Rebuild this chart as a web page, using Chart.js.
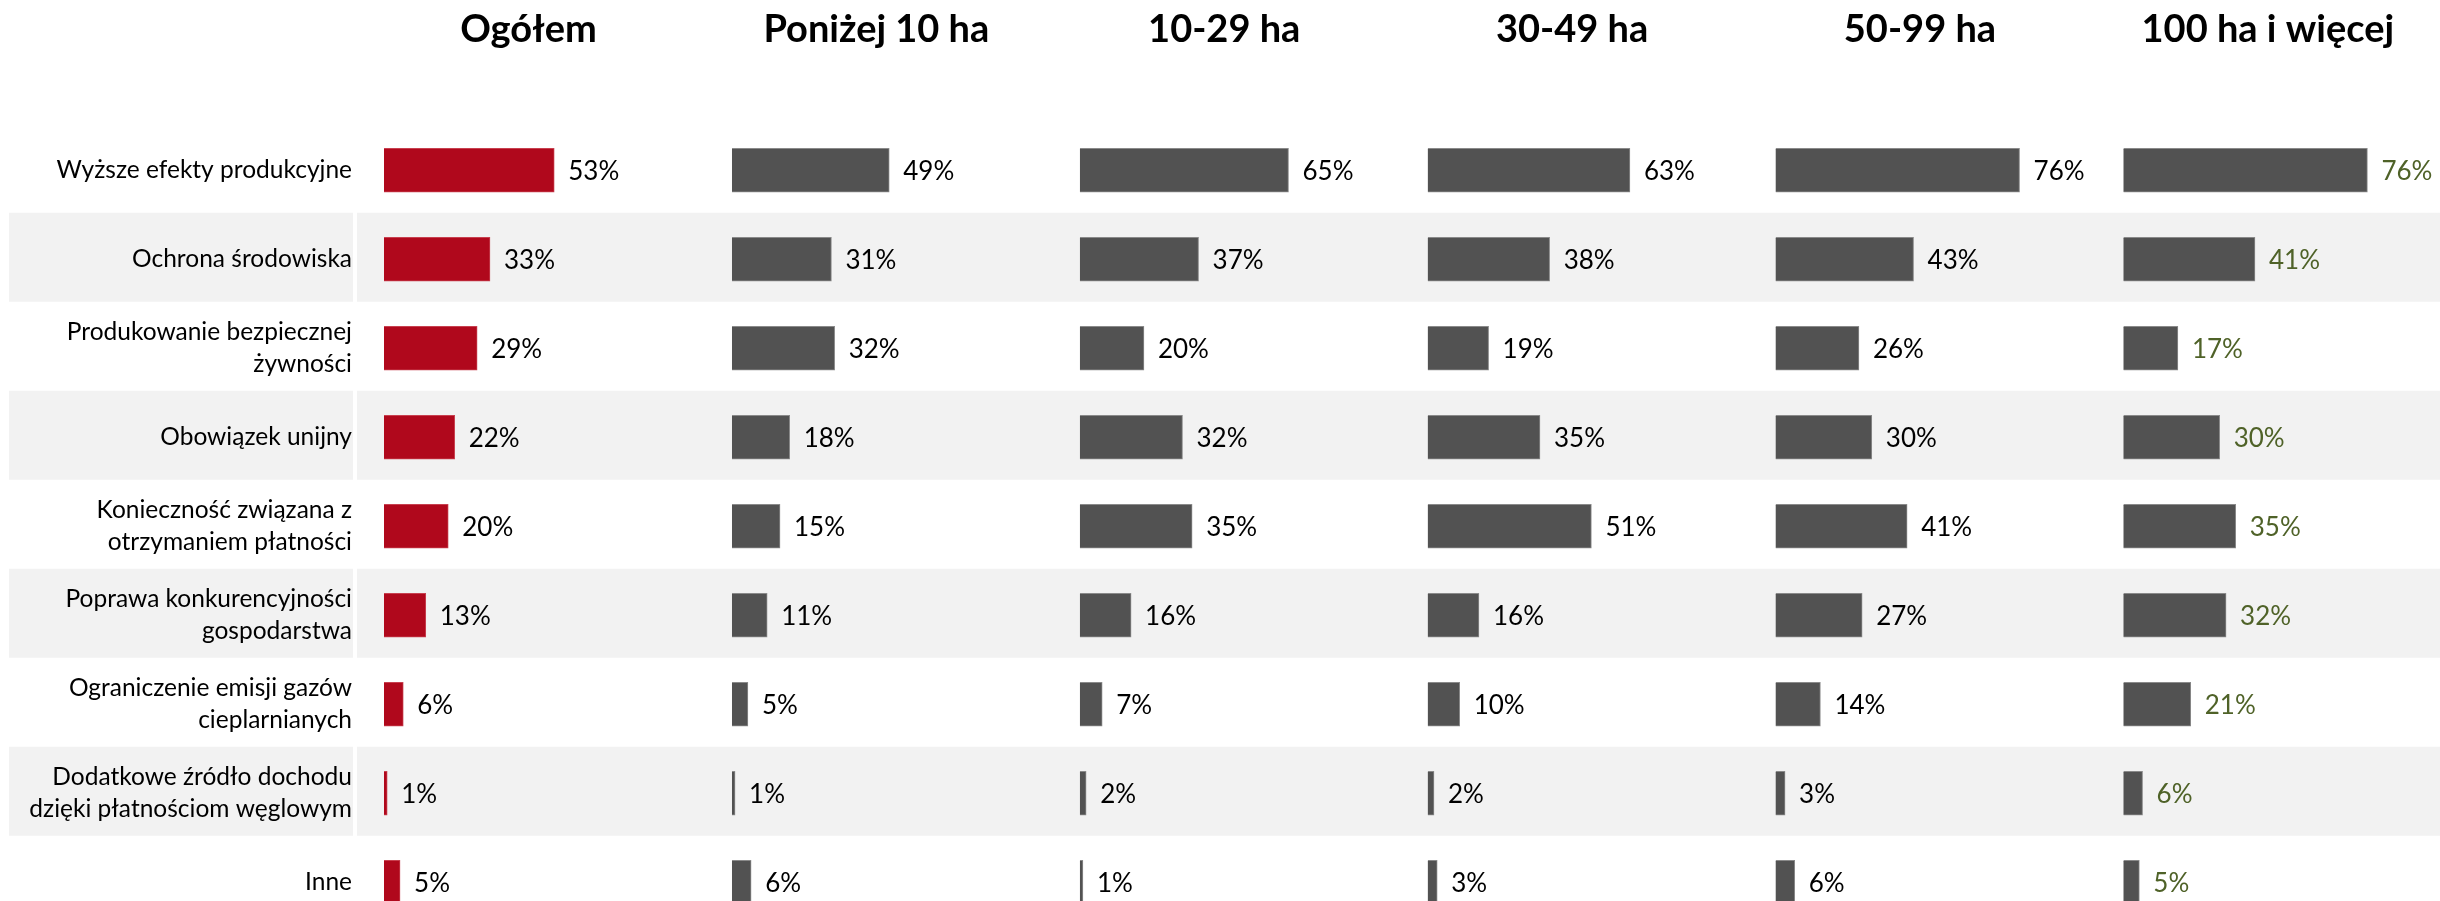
<!DOCTYPE html>
<html>
<head>
<meta charset="utf-8">
<script src="https://cdn.jsdelivr.net/npm/chart.js@4.4.1/dist/chart.umd.min.js"></script>
<style>
	html, body { margin: 0; padding: 0; background: #fff; overflow: hidden; }
	#wrap { width: 2440px; height: 901px; overflow: hidden; }
	#box { width: 2440px; height: 1000px; position: relative; }
</style>
</head>
<body>
<div id="wrap"><div id="box"><canvas id="myChart"></canvas></div></div>
<script>
/*
 * DATA
 */
	var categories = [
		'Wyższe efekty produkcyjne',
		'Ochrona środowiska',
		['Produkowanie bezpiecznej', 'żywności'],
		'Obowiązek unijny',
		['Konieczność związana z', 'otrzymaniem płatności'],
		['Poprawa konkurencyjności', 'gospodarstwa'],
		['Ograniczenie emisji gazów', 'cieplarnianych'],
		['Dodatkowe źródło dochodu', 'dzięki płatnościom węglowym'],
		'Inne'
	];
	var groups = ['Ogółem', 'Poniżej 10 ha', '10-29 ha', '30-49 ha', '50-99 ha', '100 ha i więcej'];

	var ogolem    = [53, 33, 29, 22, 20, 13, 6, 1, 5];
	var ponizej10 = [49, 31, 32, 18, 15, 11, 5, 1, 6];
	var ha10_29   = [65, 37, 20, 32, 35, 16, 7, 2, 1];
	var ha30_49   = [63, 38, 19, 35, 51, 16, 10, 2, 3];
	var ha50_99   = [76, 43, 26, 30, 41, 27, 14, 3, 6];
	var ha100     = [76, 41, 17, 30, 35, 32, 21, 6, 5];

/*
 * STYLE
 */
	var FONT = "Lato, 'Noto Sans', sans-serif";
	var RED = '#b0081c';
	var GREY = '#525252';
	var series = [ogolem, ponizej10, ha10_29, ha30_49, ha50_99, ha100];
	var axisMax = [108.3, 108.3, 108.3, 108.3, 108.3, 98.6];   // each column's % range (sets its width)
	var labelColors = ['#000', '#000', '#000', '#000', '#000', '#4f6228'];
	var TITLE_AT = 45;   // title is centred over this % value of its column

	/* PLUGIN - alternating grey row bands */
	var rowBands = {
		id: 'rowBands',
		beforeDraw: function(chart) {
			var ctx = chart.ctx, y = chart.scales.y;
			var step = y.getPixelForValue(1) - y.getPixelForValue(0);
			ctx.save();
			ctx.fillStyle = '#f2f2f2';
			for (var i = 1; i < categories.length; i += 2) {
				var top = y.getPixelForValue(i) - step / 2 - 2;
				ctx.fillRect(9, top, 344, step);
				ctx.fillRect(357, top, chart.width - 357, step);
			}
			ctx.restore();
		}
	};

	/* PLUGIN - value labels at bar ends */
	var valueLabels = {
		id: 'valueLabels',
		afterDatasetsDraw: function(chart) {
			var ctx = chart.ctx;
			ctx.save();
			ctx.font = '26px ' + FONT;
			ctx.textAlign = 'left';
			ctx.textBaseline = 'middle';
			chart.data.datasets.forEach(function(ds, i) {
				ctx.fillStyle = labelColors[i];
				chart.getDatasetMeta(i).data.forEach(function(bar, j) {
					ctx.fillText(ds.data[j] + '%', bar.x + 14, bar.y + 1);
				});
			});
			ctx.restore();
		}
	};

	/* PLUGIN - column titles */
	var columnTitles = {
		id: 'columnTitles',
		afterDraw: function(chart) {
			var ctx = chart.ctx;
			ctx.save();
			ctx.font = 'bold 38px ' + FONT;
			ctx.fillStyle = '#000';
			ctx.textAlign = 'center';
			ctx.textBaseline = 'alphabetic';
			groups.forEach(function(t, i) {
				ctx.fillText(t, chart.scales['x' + i].getPixelForValue(TITLE_AT), 42);
			});
			ctx.restore();
		}
	};

/*
 * CHART
 */
	var scales = {};
	series.forEach(function(s, i) {
		scales['x' + i] = {
			type: 'linear',
			position: 'bottom',
			stack: 'cols',
			stackWeight: axisMax[i],
			min: 0,
			max: axisMax[i],
			display: false,
			grid: { display: false }
		};
	});
	scales.y = {
		type: 'category',
		position: 'left',
		grid: { display: false, drawTicks: false },
		border: { display: false },
		ticks: {
			autoSkip: false,
			padding: 32,
			color: '#000',
			font: { family: FONT, size: 24.5, lineHeight: 1.286 }
		},
		afterFit: function(scale) { scale.width = 384; }
	};

	var myChart = new Chart(document.getElementById('myChart'), {
		type: 'bar',
		data: {
			labels: categories,
			datasets: series.map(function(values, i) {
				return {
					label: groups[i],
					data: values,
					xAxisID: 'x' + i,
					yAxisID: 'y',
					backgroundColor: i === 0 ? RED : GREY,
					borderColor: i === 0 ? '#c8404f' : '#8a8a8a',
					borderWidth: 1,
					borderSkipped: 'left',
					grouped: false,
					barThickness: 44
				};
			})
		},
		options: {
			indexAxis: 'y',
			responsive: true,
			maintainAspectRatio: false,
			animation: false,
			layout: { padding: { top: 125.8, bottom: 73.3, left: 0, right: 0 } },
			scales: scales,
			plugins: {
				legend: { display: false },
				tooltip: { enabled: false }
			}
		},
		plugins: [rowBands, valueLabels, columnTitles]
	});
</script>
</body>
</html>
